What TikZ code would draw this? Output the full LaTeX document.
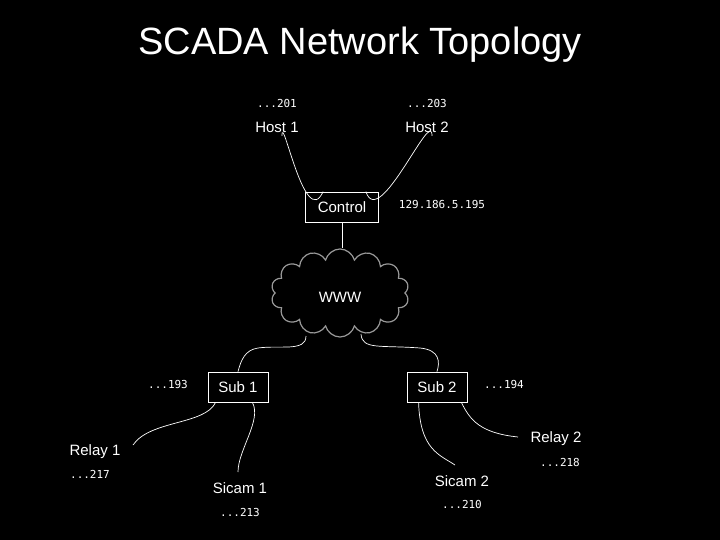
\documentclass[tikz,border=0pt]{standalone}
\usepackage{fontspec}
\setmainfont{Liberation Sans}
\newfontfamily\numfont{DejaVu Sans Mono}
\usetikzlibrary{shapes.symbols}
\begin{document}
\begin{tikzpicture}[x=1pt,y=-1pt,
  lbl/.style={text=white,font=\fontsize{15}{17}\selectfont},
  num/.style={text=white,font=\numfont\fontsize{11}{13}\selectfont},
  box/.style={draw=white,line width=0.8pt,text=white,font=\fontsize{15}{17}\selectfont,minimum height=30pt,inner xsep=6pt},
  wire/.style={draw=white,line width=0.7pt}]
\fill[black] (0,0) rectangle (720,540);
\useasboundingbox (0,0) rectangle (720,540);
\node[text=white,font=\fontsize{38}{42}\selectfont] (title) at (360,45) {SCADA Network Topology};
\node[num] (n201) at (277,103) {...201};
\node[lbl] (h1) at (277,127) {Host 1};
\node[num] (n203) at (427,103) {...203};
\node[lbl] (h2) at (427,127) {Host 2};
\node[box,minimum width=73pt] (ctl) at (342,207) {Control};
\node[num] (ip) at (442,204) {129.186.5.195};
\node[cloud,draw=gray!80,line width=1.2pt,cloud puffs=14,aspect=1.6,minimum width=138pt,minimum height=88pt] (www) at (340,293) {};
\node[lbl] (wl) at (340,297) {WWW};
\node[box,minimum width=60pt] (s1) at (238,387) {Sub 1};
\node[num] (n193) at (168,384) {...193};
\node[box,minimum width=60pt] (s2) at (437,387) {Sub 2};
\node[num] (n194) at (504,384) {...194};
\node[lbl] (r1) at (95,452) {Relay 1};
\node[num] (n217) at (90,474) {...217};
\node[lbl] (c1) at (240,488) {Sicam 1};
\node[num] (n213) at (240,512) {...213};
\node[lbl] (c2) at (462,481) {Sicam 2};
\node[num] (n210) at (462,504) {...210};
\node[lbl] (r2) at (556,439) {Relay 2};
\node[num] (n218) at (560,462) {...218};
\coordinate (r1e) at (133,445);
\coordinate (c1e) at (238,472);
\coordinate (c2e) at (455,465);
\coordinate (r2e) at (518,437);
\draw[wire] (h1.south) ++(5,0) coordinate (a) .. controls ([yshift=25]a) and ([yshift=-40]ctl.north west) .. ([xshift=18]ctl.north west);
\draw[wire] (h2.south) ++(5,0) coordinate (b) .. controls ([yshift=30]b) and ([yshift=-40]ctl.north east) .. ([xshift=-13]ctl.north east);
\draw[wire] (ctl.south) -- (ctl.south |- www.north);
\draw[wire] (306,336) .. controls (306,352) and (280,345) .. (258,348) .. controls (245,350) and (241,360) .. (s1.north);
\draw[wire] (361,334) .. controls (362,350) and (380,345) .. (420,348) .. controls (440,350) and (440,362) .. (s2.north);
\draw[wire] ([xshift=8]s1.south west) .. controls (205,425) and (150,420) .. (r1e);
\draw[wire] ([xshift=-16]s1.south east) .. controls (262,420) and (238,450) .. (c1e);
\draw[wire] ([xshift=12]s2.south west) .. controls (420,450) and (440,455) .. (c2e);
\draw[wire] ([xshift=-6]s2.south east) .. controls (470,420) and (480,433) .. (r2e);
\end{tikzpicture}
\end{document}
